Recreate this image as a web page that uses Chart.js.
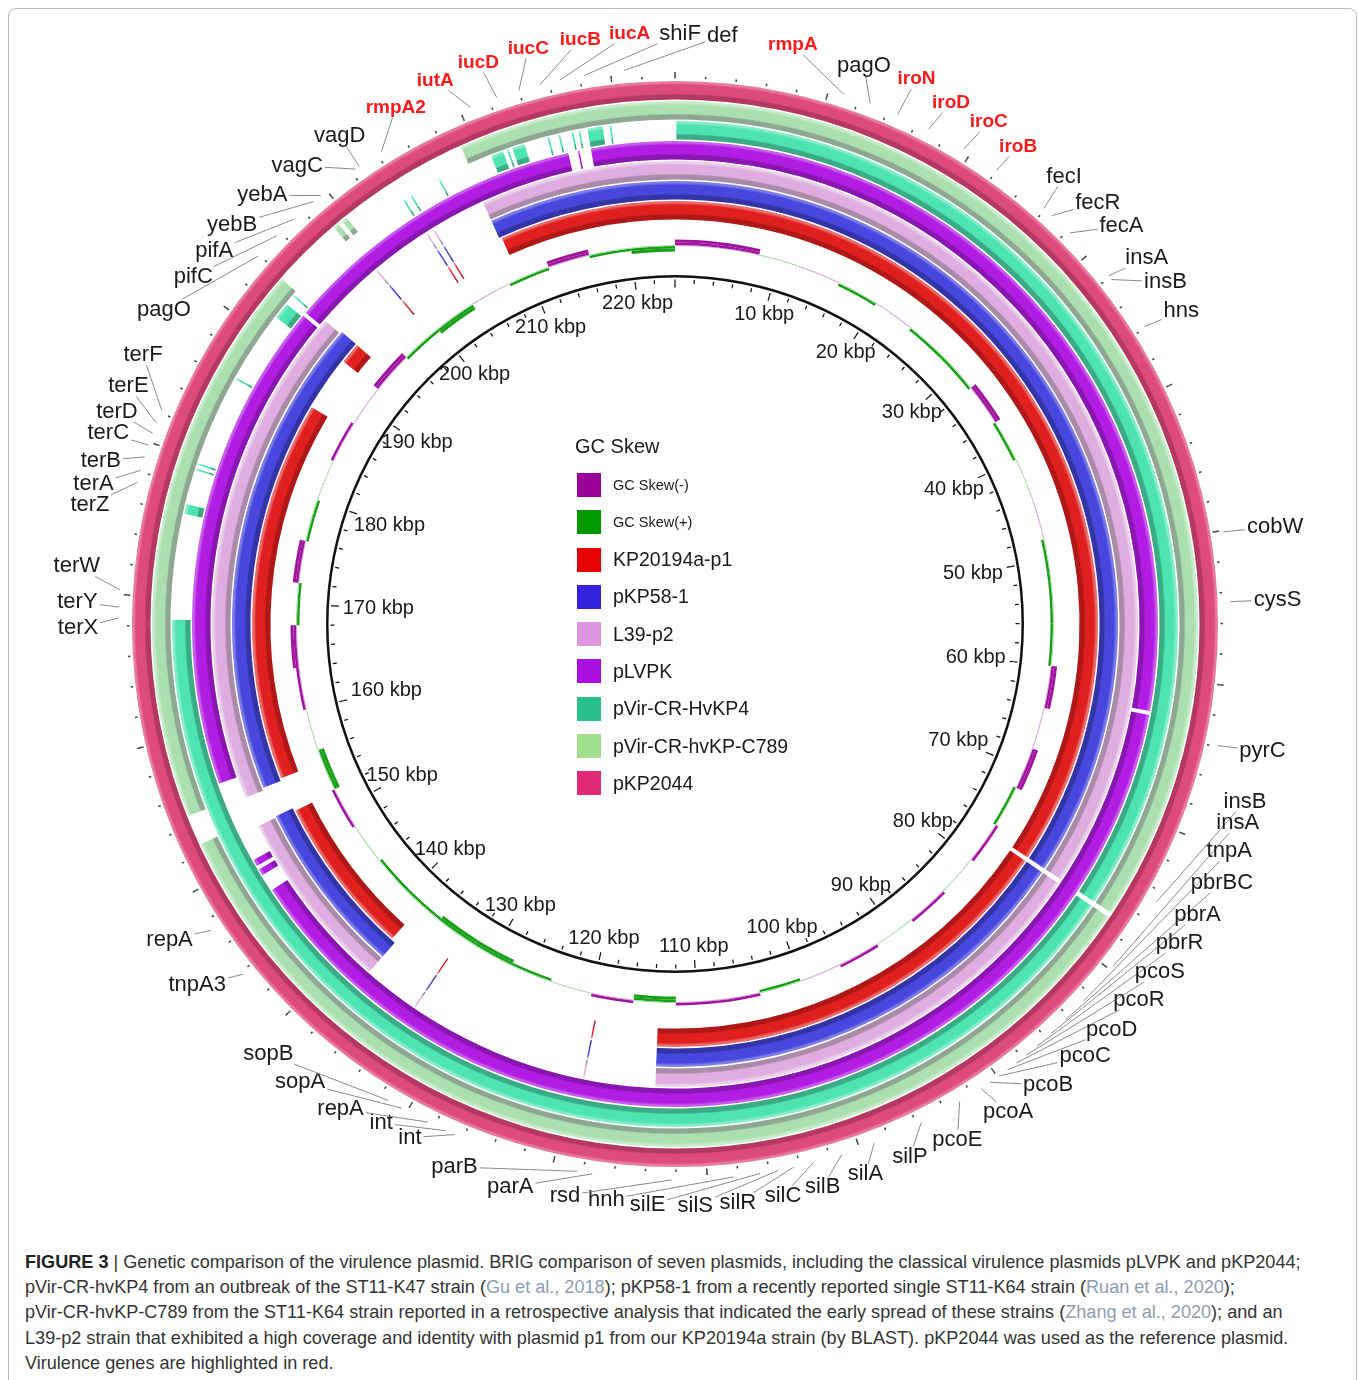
<!DOCTYPE html>
<html>
<head>
<meta charset="utf-8">
<title>BRIG comparison of virulence plasmids</title>
<script src="https://cdn.jsdelivr.net/npm/chart.js"></script>
<style>
  body { margin: 0; background: #fff; font-family: "Liberation Sans", Arial, sans-serif; }
  #frame { position: absolute; left: 8px; top: 8px; width: 1347px; height: 1420px; border: 1px solid #b8b8b8; border-radius: 8px; }
  #brig { position: absolute; left: 0; top: 0; }
  #legend { position: absolute; left: 575px; top: 434px; color: #1a1a1a; }
  #legend .title { font-size: 20px; height: 24px; line-height: 24px; margin-bottom: 8.35px; }
  #legend .row { height: 37.3px; display: flex; align-items: center; }
  #legend .sw { width: 24px; height: 24px; margin-left: 2px; margin-right: 12px; }
  #legend .lab { font-size: 19.5px; }
  #legend .small { font-size: 14.5px; }
  #caption { position: absolute; left: 25px; top: 1250px; font-size: 18.1px; line-height: 25.2px; color: #333; white-space: nowrap; }
  #caption b { color: #222; }
  #caption .ref { color: #8c9db3; }
</style>
</head>
<body>
<div id="frame"></div>
<canvas id="brig" width="1358" height="1240"></canvas>
<div id="legend"></div>
<div id="caption">
  <b>FIGURE 3</b> | Genetic comparison of the virulence plasmid. BRIG comparison of seven plasmids, including the classical virulence plasmids pLVPK and pKP2044;<br>
  pVir-CR-hvKP4 from an outbreak of the ST11-K47 strain (<span class="ref">Gu et al., 2018</span>); pKP58-1 from a recently reported single ST11-K64 strain (<span class="ref">Ruan et al., 2020</span>);<br>
  pVir-CR-hvKP-C789 from the ST11-K64 strain reported in a retrospective analysis that indicated the early spread of these strains (<span class="ref">Zhang et al., 2020</span>); and an<br>
  L39-p2 strain that exhibited a high coverage and identity with plasmid p1 from our KP20194a strain (by BLAST). pKP2044 was used as the reference plasmid.<br>
  Virulence genes are highlighted in red.
</div>

<script>
// reference plasmid length (kbp)
var TOTAL = 224.15;

// BLAST hit regions on the reference, per ring (kbp)
var hitsPKP2044 = [[0, 224.15]];
var hitsC789 = [[209.1, 224.15], [0, 76.9], [77.25, 152.6], [154.7, 193.8], [198.8, 199.2], [199.5, 199.9]];
var hitsHvKP4 = [[0.1, 76.9], [77.25, 168.4], [176.0, 176.7], [179.2, 179.32], [179.6, 179.72], [186.25, 186.37],
  [191.5, 192.7], [193.4, 193.52], [203.8, 203.92], [204.4, 204.52], [206.7, 206.82], [210.8, 211.7],
  [212.0, 212.12], [212.4, 213.3], [215.0, 215.12], [215.8, 215.92], [216.75, 216.87], [217.25, 217.37],
  [217.9, 219.0], [219.5, 219.62]];
var hitsPLVPK = [[217.9, 224.15], [0, 62.5], [62.8, 147.3], [148.6, 149.1], [149.4, 149.9], [156.1, 192.8],
  [193.1, 216.2], [216.92, 217.04]];
var hitsL39 = [[208.9, 224.15], [0, 76.9], [77.25, 113.6], [119.1, 119.22], [133.3, 133.42], [137.8, 152.0],
  [154.4, 193.6], [199.1, 199.22], [203.9, 204.02], [204.5, 204.62]];
var hitsPKP58 = [[208.9, 224.15], [0, 76.9], [77.25, 113.6], [119.1, 119.22], [133.3, 133.42], [137.8, 152.1],
  [154.6, 193.8], [199.1, 199.22], [203.9, 204.02], [204.5, 204.62]];
var hitsKP20194a = [[209.1, 224.15], [0, 76.9], [77.25, 113.6], [119.1, 119.22], [133.3, 133.42], [138.2, 151.8],
  [154.8, 187.3], [192.0, 193.8], [199.1, 199.22], [203.9, 204.02], [204.5, 204.62]];

// GC skew, one value per 4 kbp window
var gcWindow = 4;
var gcSkew = [
  -0.04, -0.04, 0.015, -0.012, 0.02, -0.015, 0.02, 0.02,
  -0.04, 0.02, 0.015, -0.015, 0.02, 0.02, 0.025, -0.03,
  -0.015, -0.03, 0.02, -0.02, 0.015, -0.02, 0.015, -0.02,
  -0.015, 0.02, -0.025, -0.02, 0.04, -0.02, 0.015, 0.02,
  0.035, 0.035, 0.02, 0.02, 0.015, -0.025, 0.035, 0.015,
  -0.02, -0.035, 0.025, -0.035, 0.02, 0.015, -0.02, -0.015,
  -0.035, 0.02, 0.035, -0.015, 0.02, -0.035, 0.02, 0.04
];

// ruler
var minorTickStep = 2;
var majorTickStep = 10;
var kbpTicks = [10, 20, 30, 40, 50, 60, 70, 80, 90, 100, 110, 120, 130, 140, 150, 160, 170, 180, 190, 200, 210, 220];
var kbpLabels = ['10 kbp', '20 kbp', '30 kbp', '40 kbp', '50 kbp', '60 kbp', '70 kbp', '80 kbp', '90 kbp', '100 kbp',
  '110 kbp', '120 kbp', '130 kbp', '140 kbp', '150 kbp', '160 kbp', '170 kbp', '180 kbp', '190 kbp', '200 kbp',
  '210 kbp', '220 kbp'];

// annotated genes on pKP2044 (kbp)
var geneNames = ['rmpA2', 'iutA', 'iucD', 'iucC', 'iucB', 'iucA', 'shiF', 'def', 'rmpA', 'pagO',
  'iroN', 'iroD', 'iroC', 'iroB', 'fecI', 'fecR', 'fecA', 'insA', 'insB', 'hns',
  'cobW', 'cysS', 'pyrC', 'insB', 'insA', 'tnpA', 'pbrBC', 'pbrA', 'pbrR', 'pcoS',
  'pcoR', 'pcoD', 'pcoC', 'pcoB', 'pcoA', 'pcoE', 'silP', 'silA', 'silB', 'silC',
  'silR', 'silS', 'silE', 'hnh', 'rsd', 'parA', 'parB', 'int', 'int', 'repA',
  'sopA', 'sopB', 'tnpA3', 'repA', 'terX', 'terY', 'terW', 'terZ', 'terA', 'terB',
  'terC', 'terD', 'terE', 'terF', 'pagO', 'pifC', 'pifA', 'yebB', 'yebA', 'vagC', 'vagD'];
var genePos = [204.3, 210.7, 212.5, 214.0, 215.4, 216.7, 218.3, 220.9, 11.0, 12.8,
  14.7, 16.9, 19.5, 22.0, 25.9, 26.6, 28.2, 31.9, 32.2, 35.9,
  50.1, 54.6, 63.9, 74.7, 79.7, 82.6, 84.3, 85.6, 86.8, 87.7,
  88.5, 89.2, 89.9, 90.6, 91.3, 92.9, 95.7, 99.0, 101.2, 103.1,
  104.4, 105.4, 106.6, 108.3, 112.3, 117.4, 118.4, 126.6, 127.2, 128.5,
  130.4, 131.4, 143.8, 147.3, 168.5, 169.2, 170.3, 177.3, 178.1, 179.0,
  179.8, 180.6, 181.3, 182.2, 193.9, 195.7, 197.2, 198.9, 199.5, 202.3, 202.6];
var virulenceGenes = ['rmpA2', 'iutA', 'iucD', 'iucC', 'iucB', 'iucA', 'rmpA', 'iroN', 'iroD', 'iroC', 'iroB'];

// label placement: angle (deg clockwise from top) and distance from the centre
var labelAngle = [331.6, 336.2, 340.7, 345.7, 350.8, 355.6, 0.5, 4.6, 11.5, 18.7,
  23.9, 27.9, 32.0, 35.7, 41.0, 45.1, 48.3, 52.2, 55.1, 58.3,
  80.8, 87.7, 102.2, 107.3, 109.5, 112.3, 115.3, 119.1, 122.3, 125.7,
  129.0, 132.9, 136.5, 141.0, 145.7, 151.3, 156.2, 160.9, 165.3, 169.3,
  173.8, 178.0, 182.7, 186.8, 190.9, 196.3, 202.1, 207.3, 210.5, 214.6,
  219.3, 223.4, 232.9, 238.0, 269.6, 272.1, 275.5, 281.5, 283.5, 285.9,
  288.6, 290.8, 293.5, 296.8, 301.6, 305.8, 309.0, 312.0, 316.1, 320.5, 325.5];
var labelRadius = [587, 594, 595, 594, 592, 592, 590, 590, 591, 589,
  596, 590, 592, 588, 593, 597, 598, 597, 598, 595,
  608, 603, 601, 597, 597, 599, 605, 598, 597, 597,
  597, 596, 596, 593, 591, 588, 582, 582, 582, 582,
  582, 582, 582, 580, 582, 587, 586, 578, 579, 589,
  592, 592, 599, 596, 597, 598, 601, 597, 598, 597,
  598, 597, 596, 596, 600, 594, 593, 596, 595, 594, 592];

// legend
var legendNames = ['GC Skew(-)', 'GC Skew(+)', 'KP20194a-p1', 'pKP58-1', 'L39-p2', 'pLVPK', 'pVir-CR-HvKP4', 'pVir-CR-hvKP-C789', 'pKP2044'];
var legendColors = ['#990099', '#009900', '#e60000', '#3322dd', '#de95de', '#ab0fe0', '#2bbf8b', '#a2df8e', '#e02a78'];

// ring styles (base, inner shade, outer highlight)
var ringStyle = {
  pKP2044: ['#dd4a7c', '#b43962', '#e97aa1'],
  C789: ['#acdfb0', '#8ea792', '#c8ecca'],
  HvKP4: ['#4ee3b2', '#3aab86', '#86eecb'],
  pLVPK: ['#b11de3', '#8a16b2', '#c75eec'],
  L39: ['#dfaddf', '#a98ba9', '#ebcfeb'],
  pKP58: ['#4747de', '#3434a6', '#7c7ce8'],
  KP20194a: ['#e01f1f', '#b01818', '#ea6b6b']
};
var ringHits = {
  pKP2044: hitsPKP2044, C789: hitsC789, HvKP4: hitsHvKP4, pLVPK: hitsPLVPK,
  L39: hitsL39, pKP58: hitsPKP58, KP20194a: hitsKP20194a
};

// radial layout, outer to inner: [key, outer px, inner px]
var bands = [
  ['rulerMajor', 552, 548], ['rulerMinor', 548, 545.5], ['space', 545.5, 543],
  ['pKP2044', 543, 524.5], ['space', 524.5, 523],
  ['C789', 523, 504.5], ['space', 504.5, 503],
  ['HvKP4', 503, 484.5], ['space', 484.5, 483],
  ['pLVPK', 483, 464.5], ['space', 464.5, 463],
  ['L39', 463, 444.5], ['space', 444.5, 443],
  ['pKP58', 443, 424.5], ['space', 424.5, 423],
  ['KP20194a', 423, 404.5], ['space', 404.5, 384.5],
  ['gcMinus2', 384.5, 381.5], ['gcMinus1', 381.5, 379], ['gcBase', 379, 378],
  ['gcPlus1', 378, 375.5], ['gcPlus2', 375.5, 372.5], ['space', 372.5, 349],
  ['circle', 349, 346.5], ['space', 346.5, 344.5],
  ['tickMinor', 344.5, 340.5], ['tickMajor', 340.5, 336.5]
];
var CLEAR = 'rgba(0,0,0,0)';

function toSegments(intervals) {
  var list = intervals.slice().sort(function (a, b) { return a[0] - b[0]; });
  var data = [], hits = [], pos = 0;
  list.forEach(function (iv) {
    var s = Math.max(iv[0], pos), e = Math.min(iv[1], TOTAL);
    if (e <= s) return;
    if (s > pos) { data.push(s - pos); hits.push(false); }
    data.push(e - s); hits.push(true);
    pos = e;
  });
  if (pos < TOTAL) { data.push(TOTAL - pos); hits.push(false); }
  return { data: data, hits: hits };
}

function tickIntervals(step, width) {
  var out = [];
  for (var k = 0; k < TOTAL - 0.5; k += step) {
    if (k === 0) { out.push([0, width / 2]); out.push([TOTAL - width / 2, TOTAL]); }
    else out.push([k - width / 2, k + width / 2]);
  }
  return out;
}

function ringFill(st) {
  return function (c) {
    if (c.type !== 'data') return st[0];
    if (!c.dataset.hits[c.dataIndex]) return CLEAR;
    var chart = c.chart, a = chart.chartArea;
    var ctrl = chart.getDatasetMeta(c.datasetIndex).controller;
    if (!a || !ctrl.outerRadius) return st[0];
    var cx = (a.left + a.right) / 2, cy = (a.top + a.bottom) / 2;
    var g = chart.ctx.createRadialGradient(cx, cy, ctrl.innerRadius, cx, cy, ctrl.outerRadius);
    g.addColorStop(0, st[1]); g.addColorStop(0.24, st[1]);
    g.addColorStop(0.32, st[0]); g.addColorStop(0.78, st[0]);
    g.addColorStop(0.9, st[2]); g.addColorStop(1, st[2]);
    return g;
  };
}

function plainDataset(intervals, color, weight) {
  var seg = toSegments(intervals);
  return {
    data: seg.data, weight: weight,
    backgroundColor: seg.hits.map(function (h) { return h ? color : CLEAR; })
  };
}

function gcDataset(pick, weight) {
  var data = [], colors = [];
  gcSkew.forEach(function (v, i) {
    var start = i * gcWindow;
    var end = i === gcSkew.length - 1 ? TOTAL : (i + 1) * gcWindow;
    data.push(end - start);
    colors.push(pick(v));
  });
  return { data: data, weight: weight, backgroundColor: colors };
}

var datasets = [];
var circleIndex = 0;
bands.forEach(function (b, i) {
  var key = b[0], w = b[1] - b[2];
  if (key === 'space') datasets.push({ data: [TOTAL], weight: w, backgroundColor: [CLEAR] });
  else if (key === 'rulerMajor') datasets.push(plainDataset(tickIntervals(majorTickStep, 0.1), '#444', w));
  else if (key === 'rulerMinor') datasets.push(plainDataset(tickIntervals(minorTickStep, 0.1), '#444', w));
  else if (key === 'tickMajor') datasets.push(plainDataset(tickIntervals(majorTickStep, 0.13), '#111', w));
  else if (key === 'tickMinor') datasets.push(plainDataset(tickIntervals(minorTickStep, 0.13), '#111', w));
  else if (key === 'circle') { circleIndex = i; datasets.push(plainDataset([[0, TOTAL]], '#111', w)); }
  else if (key === 'gcMinus2') datasets.push(gcDataset(function (v) { return v <= -0.03 ? '#a0139f' : CLEAR; }, w));
  else if (key === 'gcMinus1') datasets.push(gcDataset(function (v) { return v <= -0.018 ? '#a0139f' : CLEAR; }, w));
  else if (key === 'gcBase') datasets.push(gcDataset(function (v) { return v < 0 ? '#d9a2d9' : '#a5daa5'; }, w));
  else if (key === 'gcPlus1') datasets.push(gcDataset(function (v) { return v >= 0.018 ? '#15a015' : CLEAR; }, w));
  else if (key === 'gcPlus2') datasets.push(gcDataset(function (v) { return v >= 0.03 ? '#15a015' : CLEAR; }, w));
  else {
    var seg = toSegments(ringHits[key]);
    datasets.push({ data: seg.data, hits: seg.hits, weight: w, backgroundColor: ringFill(ringStyle[key]) });
  }
});

// text layer: ruler labels and gene labels
var brigText = {
  id: 'brigText',
  afterDatasetsDraw: function (chart) {
    var ctx = chart.ctx;
    var first = chart.getDatasetMeta(0).data[0];
    var cx = first.x, cy = first.y, start = first.startAngle;
    var circle = chart.getDatasetMeta(circleIndex).data[0];
    var rc = (circle.innerRadius + circle.outerRadius) / 2;
    var r0 = first.outerRadius + 4;
    function angleAt(k) { return start + k / TOTAL * Math.PI * 2; }

    ctx.save();
    ctx.textAlign = 'center';
    ctx.textBaseline = 'middle';

    ctx.font = '20px "Liberation Sans", Arial, sans-serif';
    ctx.fillStyle = '#1a1a1a';
    kbpTicks.forEach(function (k, i) {
      var a = angleAt(k), ux = Math.cos(a), uy = Math.sin(a);
      var hw = ctx.measureText(kbpLabels[i]).width / 2, hh = 10;
      var ext = Math.min(Math.abs(ux) > 1e-6 ? hw / Math.abs(ux) : 1e9, Math.abs(uy) > 1e-6 ? hh / Math.abs(uy) : 1e9);
      var d = 15 + ext;
      ctx.fillText(kbpLabels[i], cx + rc * ux - ux * d, cy + rc * uy - uy * d);
    });

    geneNames.forEach(function (name, i) {
      var red = virulenceGenes.indexOf(name) >= 0;
      ctx.font = red ? 'bold 19px "Liberation Sans", Arial, sans-serif' : '22px "Liberation Sans", Arial, sans-serif';
      var ag = angleAt(genePos[i]);
      var gx = cx + r0 * Math.cos(ag), gy = cy + r0 * Math.sin(ag);
      var al = (labelAngle[i] - 90) * Math.PI / 180;
      var tx = cx + labelRadius[i] * Math.cos(al), ty = cy + labelRadius[i] * Math.sin(al);
      var hw = ctx.measureText(name).width / 2 + 2, hh = 10;
      var dx = tx - gx, dy = ty - gy;
      // stop the leader line where it meets the label box
      var t = Math.max(0, Math.abs(dx) > 1e-6 ? 1 - hw / Math.abs(dx) : 0, Math.abs(dy) > 1e-6 ? 1 - hh / Math.abs(dy) : 0);
      ctx.strokeStyle = '#8a8a8a';
      ctx.lineWidth = 1;
      ctx.beginPath();
      ctx.moveTo(gx, gy);
      ctx.lineTo(gx + dx * t, gy + dy * t);
      ctx.stroke();
      ctx.fillStyle = red ? '#ff1a1a' : '#1a1a1a';
      ctx.fillText(name, tx, ty);
    });
    ctx.restore();
  }
};

var ctx = document.getElementById('brig').getContext('2d');
var brigChart = new Chart(ctx, {
  type: 'doughnut',
  data: { datasets: datasets },
  options: {
    responsive: false,
    animation: false,
    events: [],
    cutout: 336.5,
    borderWidth: 0,
    spacing: 0,
    layout: { padding: { left: 123, top: 72, right: 131, bottom: 64 } },
    elements: { arc: { borderWidth: 0 } },
    plugins: { legend: { display: false }, tooltip: { enabled: false } }
  },
  plugins: [brigText]
});

// centre legend
var legend = document.getElementById('legend');
var title = document.createElement('div');
title.className = 'title';
title.textContent = 'GC Skew';
legend.appendChild(title);
legendNames.forEach(function (name, i) {
  var row = document.createElement('div');
  row.className = 'row';
  var sw = document.createElement('div');
  sw.className = 'sw';
  sw.style.background = legendColors[i];
  var lab = document.createElement('span');
  lab.className = i < 2 ? 'lab small' : 'lab';
  lab.textContent = name;
  row.appendChild(sw);
  row.appendChild(lab);
  legend.appendChild(row);
});
</script>
</body>
</html>
